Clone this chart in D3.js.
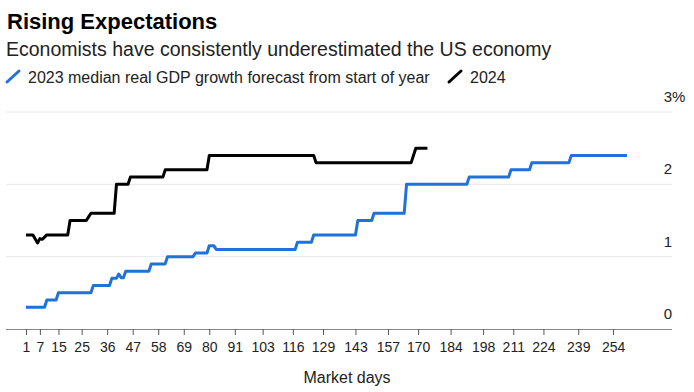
<!DOCTYPE html>
<html>
<head>
<meta charset="utf-8">
<script src="https://cdn.jsdelivr.net/npm/d3@7"></script>
<style>
  body { margin: 0; background: #fff; }
  svg text { font-family: "Liberation Sans", Arial, sans-serif; }
</style>
</head>
<body>
<script>
// forecast readings (market day, % growth)
var days2023 = [1, 9, 10, 14, 15, 29, 30, 37, 38, 40, 41, 42, 43, 44, 54, 55, 61, 62, 73, 74, 79, 80, 82, 83, 117, 118, 124, 125, 143, 144, 150, 151, 164, 165, 191, 192, 209, 210, 218, 219, 235, 236, 260];
var vals2023 = [0.3, 0.3, 0.4, 0.4, 0.5, 0.5, 0.6, 0.6, 0.7, 0.7, 0.76, 0.71, 0.71, 0.8, 0.8, 0.9, 0.9, 1.0, 1.0, 1.05, 1.05, 1.15, 1.15, 1.1, 1.1, 1.2, 1.2, 1.3, 1.3, 1.5, 1.5, 1.6, 1.6, 2.0, 2.0, 2.1, 2.1, 2.2, 2.2, 2.3, 2.3, 2.4, 2.4];

var days2024 = [1, 4, 6, 7, 8, 10, 19, 20, 27, 28, 29, 39, 40, 45, 46, 60, 61, 79, 80, 125, 126, 167, 169, 174];
var vals2024 = [1.3, 1.3, 1.19, 1.25, 1.24, 1.3, 1.3, 1.5, 1.5, 1.55, 1.6, 1.6, 2.0, 2.0, 2.1, 2.1, 2.2, 2.2, 2.4, 2.4, 2.3, 2.3, 2.5, 2.5];

var xTicks = [1, 7, 15, 25, 36, 47, 58, 69, 80, 91, 103, 116, 129, 143, 157, 170, 184, 198, 211, 224, 239, 254];
var yTicks = [0, 1, 2, 3];

var svg = d3.select("body").append("svg").attr("width", 694).attr("height", 392);

var plotLeft = 6, plotRight = 672, plotTop = 112, plotBottom = 329;

var x = d3.scaleLinear().domain([-7.6, 279.4]).range([plotLeft, plotRight]);
var y = d3.scaleLinear().domain([0, 3]).range([plotBottom, plotTop]);

// header
svg.append("text").attr("x", 7).attr("y", 29)
  .style("font-size", "22px").style("font-weight", "bold").attr("fill", "#000")
  .text("Rising Expectations");
svg.append("text").attr("x", 6).attr("y", 56)
  .style("font-size", "19.5px").attr("fill", "#222")
  .text("Economists have consistently underestimated the US economy");

// legend
var legend = [
  { name: "2023 median real GDP growth forecast from start of year", color: "#1f72d8", x: 7 },
  { name: "2024", color: "#000", x: 449 }
];
legend.forEach(function (d) {
  svg.append("line").attr("x1", d.x).attr("y1", 82).attr("x2", d.x + 12).attr("y2", 71)
    .attr("stroke", d.color).attr("stroke-width", 3).attr("stroke-linecap", "round");
  svg.append("text").attr("x", d.x + 21).attr("y", 83)
    .style("font-size", "16px").attr("fill", "#222").text(d.name);
});

// gridlines
svg.append("g").selectAll("line").data(yTicks.filter(function (t) { return t > 0; }))
  .enter().append("line")
  .attr("x1", plotLeft).attr("x2", plotRight)
  .attr("y1", function (d) { return y(d); }).attr("y2", function (d) { return y(d); })
  .attr("stroke", "#e8e8e8").attr("stroke-width", 1);

// y labels
var yl = svg.append("g");
yl.selectAll("text").data(yTicks).enter().append("text")
  .attr("x", plotRight).attr("y", function (d) { return y(d) - 10; })
  .attr("text-anchor", "end").style("font-size", "15px").attr("fill", "#222")
  .text(function (d) { return d; });
yl.append("text").attr("x", plotRight).attr("y", y(3) - 10)
  .style("font-size", "15px").attr("fill", "#222").text("%");

// x axis
var xAxis = d3.axisBottom(x).tickValues(xTicks).tickSize(6).tickPadding(7).tickSizeOuter(0);
var ax = svg.append("g").attr("transform", "translate(0," + plotBottom + ")").call(xAxis);
ax.select(".domain").attr("stroke", "#888").attr("d", "M" + plotLeft + ",0.5H" + plotRight);
ax.selectAll(".tick line").attr("stroke", "#555");
ax.selectAll(".tick text").style("font-size", "14px").attr("fill", "#222")
  .style("font-family", "\"Liberation Sans\", Arial, sans-serif");

svg.append("text").attr("x", 347).attr("y", 383).attr("text-anchor", "middle")
  .style("font-size", "16px").attr("fill", "#222").text("Market days");

// lines
var line = d3.line()
  .x(function (d) { return x(d[0]); })
  .y(function (d) { return y(d[1]); });

var series = [
  { color: "#1f72d8", pts: d3.zip(days2023, vals2023) },
  { color: "#000", pts: d3.zip(days2024, vals2024) }
];

svg.append("g").selectAll("path").data(series).enter().append("path")
  .attr("d", function (d) { return line(d.pts); })
  .attr("fill", "none")
  .attr("stroke", function (d) { return d.color; })
  .attr("stroke-width", 3)
  .attr("stroke-linejoin", "round");
</script>
</body>
</html>
